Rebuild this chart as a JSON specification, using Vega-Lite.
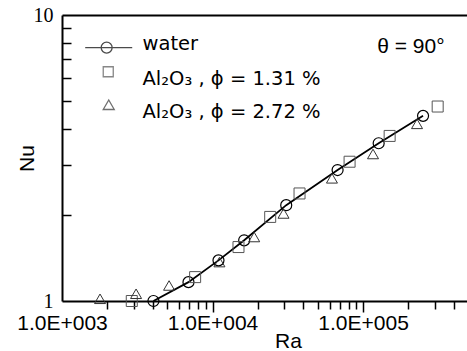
{
  "$schema": "https://vega.github.io/schema/vega-lite/v6.json",
  "width": 405,
  "height": 286,
  "autosize": {"type": "none"},
  "padding": {"left": 62, "top": 15, "right": 0, "bottom": 50},
  "config": {
    "view": {"stroke": null},
    "axis": {"grid": false, "domainColor": "#000", "tickColor": "#000", "domainWidth": 2, "tickWidth": 1.5, "labelColor": "#000", "titleColor": "#000"}
  },
  "datasets": {
    "pts": [
      {"series": "water", "Ra": 4050, "Nu": 1.0},
      {"series": "water", "Ra": 6920, "Nu": 1.164},
      {"series": "water", "Ra": 10950, "Nu": 1.387},
      {"series": "water", "Ra": 16220, "Nu": 1.63},
      {"series": "water", "Ra": 30860, "Nu": 2.163},
      {"series": "water", "Ra": 67700, "Nu": 2.87},
      {"series": "water", "Ra": 126900, "Nu": 3.561},
      {"series": "water", "Ra": 250200, "Nu": 4.44},
      {"series": "sq", "Ra": 2907, "Nu": 1.0},
      {"series": "sq", "Ra": 7661, "Nu": 1.212},
      {"series": "sq", "Ra": 14870, "Nu": 1.544},
      {"series": "sq", "Ra": 24150, "Nu": 1.968},
      {"series": "sq", "Ra": 37830, "Nu": 2.377},
      {"series": "sq", "Ra": 81330, "Nu": 3.069},
      {"series": "sq", "Ra": 150100, "Nu": 3.777},
      {"series": "sq", "Ra": 312900, "Nu": 4.786},
      {"series": "tri", "Ra": 1789, "Nu": 1.018},
      {"series": "tri", "Ra": 3105, "Nu": 1.06},
      {"series": "tri", "Ra": 5144, "Nu": 1.133},
      {"series": "tri", "Ra": 11110, "Nu": 1.368},
      {"series": "tri", "Ra": 18910, "Nu": 1.674},
      {"series": "tri", "Ra": 29610, "Nu": 2.023},
      {"series": "tri", "Ra": 62120, "Nu": 2.685},
      {"series": "tri", "Ra": 116400, "Nu": 3.266},
      {"series": "tri", "Ra": 228200, "Nu": 4.163}
    ]
  },
  "data": {"name": "pts"},
  "resolve": {"axis": {"x": "independent", "y": "independent"}},
  "layer": [
    {
      "transform": [{"filter": "datum.series == 'water'"}],
      "mark": {"type": "line", "color": "#000", "strokeWidth": 1.8},
      "encoding": {
        "x": {"field": "Ra", "type": "quantitative", "scale": {"type": "log", "domain": [1000, 490000], "nice": false},
          "axis": {"orient": "bottom", "values": [1000, 10000, 100000], "ticks": false, "labelPadding": 28, "labelBaseline": "alphabetic", "labelFlush": false, "labelOverlap": false,
            "labelExpr": "'1.0E+00' + round(log(datum.value)/LN10)", "labelFont": "Liberation Sans", "labelFontSize": 21,
            "title": "Ra", "titleFont": "Liberation Sans", "titleFontSize": 21, "titleFontWeight": "normal", "titleX": 226, "titleY": 46, "titleBaseline": "alphabetic"}},
        "y": {"field": "Nu", "type": "quantitative", "scale": {"type": "log", "domain": [1, 10], "nice": false},
          "axis": {"orient": "left", "values": [1, 10], "ticks": false, "labelPadding": 9, "labelExpr": "datum.value < 5 ? '1' : '10'", "labelFont": "Liberation Serif", "labelFontSize": 20,
            "title": "Nu", "titleFont": "Liberation Sans", "titleFontSize": 21, "titleFontWeight": "normal", "titleX": -29, "titleY": 143, "titleBaseline": "alphabetic"}}
      }
    },
    {
      "transform": [{"filter": "datum.series == 'water'"}],
      "mark": {"type": "point", "shape": "circle", "filled": false, "size": 121, "stroke": "#000", "strokeWidth": 1.2, "opacity": 1},
      "encoding": {
        "x": {"field": "Ra", "type": "quantitative", "scale": {"type": "log", "domain": [1000, 490000], "nice": false},
          "axis": {"orient": "bottom", "values": [2000, 3000, 4000, 5000, 6000, 7000, 8000, 9000, 20000, 30000, 40000, 50000, 60000, 70000, 80000, 90000, 200000, 300000, 400000], "ticks": true, "tickSize": 8, "tickColor": "#000000", "tickWidth": 1.5, "labels": false, "domain": false, "title": null}},
        "y": {"field": "Nu", "type": "quantitative", "scale": {"type": "log", "domain": [1, 10], "nice": false},
          "axis": {"orient": "left", "values": [2, 3, 4, 5, 6, 7, 8, 9], "ticks": true, "tickSize": 9, "offset": -9, "tickColor": "#000000", "tickWidth": 1.5, "labels": false, "domain": false, "title": null}}
      }
    },
    {
      "transform": [{"filter": "datum.series == 'sq'"}],
      "mark": {"type": "point", "shape": "square", "filled": false, "size": 121, "stroke": "#555", "strokeWidth": 1, "opacity": 1},
      "encoding": {
        "x": {"field": "Ra", "type": "quantitative", "scale": {"type": "log", "domain": [1000, 490000], "nice": false},
          "axis": {"orient": "top", "ticks": false, "labels": false, "domain": true, "title": null}},
        "y": {"field": "Nu", "type": "quantitative", "scale": {"type": "log", "domain": [1, 10], "nice": false}, "axis": null}
      }
    },
    {
      "transform": [{"filter": "datum.series == 'tri'"}],
      "mark": {"type": "point", "shape": "triangle-up", "filled": false, "size": 121, "stroke": "#333", "strokeWidth": 1, "opacity": 1},
      "encoding": {
        "x": {"field": "Ra", "type": "quantitative", "scale": {"type": "log", "domain": [1000, 490000], "nice": false},
          "axis": {"orient": "bottom", "values": [10000, 100000], "ticks": true, "tickSize": 11, "tickColor": "#000000", "tickWidth": 1.5, "labels": false, "domain": false, "title": null}},
        "y": {"field": "Nu", "type": "quantitative", "scale": {"type": "log", "domain": [1, 10], "nice": false}, "axis": null}
      }
    },
    {
      "transform": [{"filter": "false"}],
      "mark": {"type": "point", "filled": false},
      "encoding": {
        "shape": {"field": "series", "type": "nominal",
          "scale": {"domain": ["water", "sq", "tri"], "range": [
            "M-4.1,0.7L4.45,0.7M0.8,0.7C0.8,1.252,0.352,1.7,-0.2,1.7C-0.752,1.7,-1.2,1.252,-1.2,0.7C-1.2,0.148,-0.752,-0.3,-0.2,-0.3C0.352,-0.3,0.8,0.148,0.8,0.7Z",
            "M-0.82,-2.18L1.0,-2.18L1.0,-0.36L-0.82,-0.36Z",
            "M0.18,-2.13L-0.82,-0.41L1.18,-0.41Z"]},
          "legend": {"orient": "none", "legendX": 36, "legendY": 19, "title": null, "padding": 0, "symbolSize": 121, "symbolStrokeWidth": 1.3, "labelFont": "DejaVu Sans", "labelFontSize": 19.5, "labelColor": "#000", "labelOffset": 25, "rowPadding": 8, "labelLimit": 0,
            "labelExpr": "datum.label == 'water' ? 'water' : datum.label == 'sq' ? 'Al₂O₃ , ϕ = 1.31 %' : 'Al₂O₃ , ϕ = 2.72 %'"}},
        "stroke": {"field": "series", "type": "nominal",
          "scale": {"domain": ["water", "sq", "tri"], "range": ["#000", "#555", "#333"]},
          "legend": {"orient": "none", "legendX": 36, "legendY": 19, "title": null, "padding": 0, "symbolSize": 121, "symbolStrokeWidth": 1.3, "labelFont": "DejaVu Sans", "labelFontSize": 19.5, "labelColor": "#000", "labelOffset": 25, "rowPadding": 8, "labelLimit": 0,
            "labelExpr": "datum.label == 'water' ? 'water' : datum.label == 'sq' ? 'Al₂O₃ , ϕ = 1.31 %' : 'Al₂O₃ , ϕ = 2.72 %'"}}
      }
    },
    {
      "data": {"values": [{"note": "theta"}]},
      "mark": {"type": "text", "text": "θ = 90°", "font": "Liberation Sans", "fontSize": 21, "align": "center", "baseline": "alphabetic", "color": "#000"},
      "encoding": {
        "x": {"datum": 207900, "type": "quantitative", "scale": {"type": "log", "domain": [1000, 490000], "nice": false}, "axis": null},
        "y": {"datum": 7.36, "type": "quantitative", "scale": {"type": "log", "domain": [1, 10], "nice": false}, "axis": null}
      }
    }
  ]
}
